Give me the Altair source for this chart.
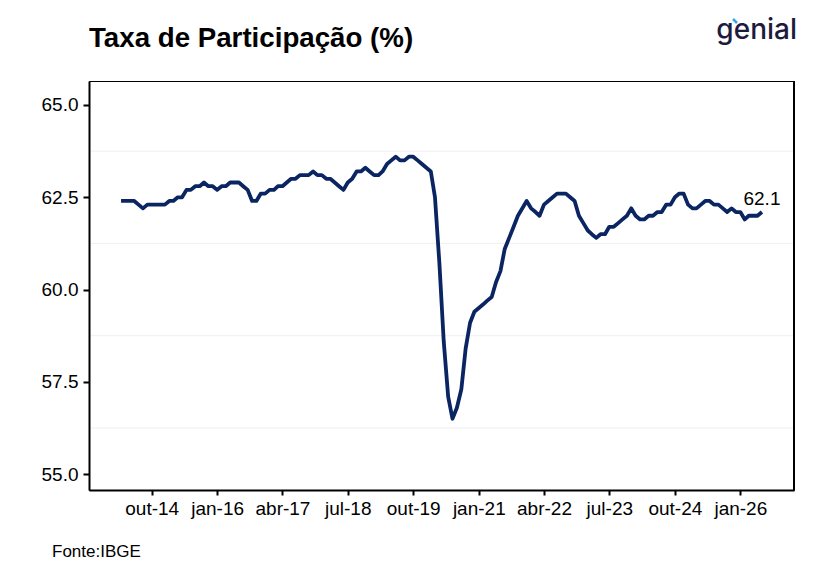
import altair as alt
import pandas as pd
from datetime import datetime, timezone

# ---- data ----
start_year, start_month = 2014, 3
values = [
    62.4, 62.4, 62.4, 62.4, 62.3, 62.2, 62.3, 62.3, 62.3, 62.3,
    62.3, 62.4, 62.4, 62.5, 62.5, 62.7, 62.7, 62.8, 62.8, 62.9,
    62.8, 62.8, 62.7, 62.8, 62.8, 62.9, 62.9, 62.9, 62.8, 62.7,
    62.4, 62.4, 62.6, 62.6, 62.7, 62.7, 62.8, 62.8, 62.9, 63.0,
    63.0, 63.1, 63.1, 63.1, 63.2, 63.1, 63.1, 63.0, 63.0, 62.9,
    62.8, 62.7, 62.9, 63.0, 63.2, 63.2, 63.3, 63.2, 63.1, 63.1,
    63.2, 63.4, 63.5, 63.6, 63.5, 63.5, 63.6, 63.6, 63.5, 63.4,
    63.3, 63.2, 62.5, 60.7, 58.6, 57.1, 56.5, 56.8, 57.3, 58.4,
    59.1, 59.4, 59.5, 59.6, 59.7, 59.8, 60.2, 60.5, 61.1, 61.4,
    61.7, 62.0, 62.2, 62.4, 62.2, 62.1, 62.0, 62.3, 62.4, 62.5,
    62.6, 62.6, 62.6, 62.5, 62.4, 62.0, 61.8, 61.6, 61.5, 61.4,
    61.5, 61.5, 61.7, 61.7, 61.8, 61.9, 62.0, 62.2, 62.0, 61.9,
    61.9, 62.0, 62.0, 62.1, 62.1, 62.3, 62.3, 62.5, 62.6, 62.6,
    62.3, 62.2, 62.2, 62.3, 62.4, 62.4, 62.3, 62.3, 62.2, 62.1,
    62.2, 62.1, 62.1, 61.9, 62.0, 62.0, 62.0, 62.1,
]
month_names = ["jan", "fev", "mar", "abr", "mai", "jun",
               "jul", "ago", "set", "out", "nov", "dez"]
tick_dates = ["2014-10-01", "2016-01-01", "2017-04-01", "2018-07-01", "2019-10-01",
              "2021-01-01", "2022-04-01", "2023-07-01", "2024-10-01", "2026-01-01"]
y_ticks = [55.0, 57.5, 60.0, 62.5, 65.0]
minor_grid = [56.25, 58.75, 61.25, 63.75]

dates = []
for i in range(len(values)):
    mm = start_month - 1 + i
    dates.append(f"{start_year + mm // 12}-{mm % 12 + 1:02d}-01")

df = pd.DataFrame({"data": dates, "valor": values})
last = df.tail(1).assign(rotulo=lambda d: d["valor"].map(lambda v: f"{v:.1f}"))

def ms(s):
    return int(datetime.strptime(s, "%Y-%m-%d").replace(tzinfo=timezone.utc).timestamp() * 1000)

t0, t1 = ms(dates[0]), ms(dates[-1])
pad = 0.05 * (t1 - t0)
x_domain = [t0 - pad, t1 + pad]
tick_ms = [ms(d) for d in tick_dates]

W, H = 705, 409
NAVY = "#0a2562"
FONT = "Liberation Sans"

month_js = "[" + ",".join(f"'{m}'" for m in month_names) + "]"

x_enc = alt.X("data:T", scale=alt.Scale(type="utc", domain=x_domain, nice=False),
              axis=alt.Axis(values=tick_ms, title=None,
                            labelExpr=month_js + "[utcmonth(datum.value)] + '-' + utcFormat(datum.value, '%y')",
                            labelFontSize=19, labelColor="black", labelFont=FONT,
                            tickColor="black", tickWidth=2, tickSize=5,
                            domainColor="black", domainWidth=2, labelPadding=4,
                            grid=False))
y_scale = alt.Scale(domain=[54.57, 65.65], nice=False, zero=False)

grid = alt.Chart(pd.DataFrame({"g": minor_grid})).mark_rule(
    color="#efefef", strokeWidth=1).encode(
    y=alt.Y("g:Q", scale=y_scale), x=alt.value(2), x2=alt.value(W - 1))

line = alt.Chart(df).mark_line(color=NAVY, strokeWidth=3.8, strokeJoin="round").encode(
    x=x_enc,
    y=alt.Y("valor:Q", scale=y_scale,
            axis=alt.Axis(values=y_ticks, format=".1f", title=None,
                          labelFontSize=19, labelColor="black", labelFont=FONT,
                          tickColor="black", tickWidth=2, tickSize=6,
                          domainColor="black", domainWidth=2, labelPadding=5,
                          grid=False)),
)

end_label = alt.Chart(last).mark_text(
    font=FONT, fontSize=19, color="black", align="center", baseline="alphabetic", dy=-7
).encode(x="data:T", y="valor:Q", text="rotulo:N")

one = alt.Data(values=[{}])
right_border = alt.Chart(one).mark_rule(color="black", strokeWidth=2).encode(
    x=alt.value(W), y=alt.value(0), y2=alt.value(H))

title = alt.Chart(one).mark_text(
    text="Taxa de Participação (%)", font=FONT, fontSize=27.7, fontWeight="bold",
    color="black", align="left", baseline="alphabetic").encode(
    x=alt.value(0), y=alt.value(-34))

logo = alt.Chart(one).mark_text(
    text="genial", font="Inter", fontSize=28, fontWeight=500,
    color="#1d1b3d", align="right", baseline="alphabetic").encode(
    x=alt.value(708), y=alt.value(-42))

accent = alt.Chart(one).mark_rule(color="#3aa6e6", strokeWidth=2.5).encode(
    x=alt.value(644), x2=alt.value(648), y=alt.value(-62), y2=alt.value(-58))

source = alt.Chart(one).mark_text(
    text="Fonte:IBGE", font=FONT, fontSize=17, color="black",
    align="left", baseline="alphabetic").encode(
    x=alt.value(-37), y=alt.value(476))

chart = alt.layer(grid, line, end_label, right_border, title, logo, accent, source).properties(
    width=W, height=H,
    autosize=alt.AutoSizeParams(type="none"),
    padding={"left": 81, "top": 73, "right": 19, "bottom": 88},
    background="white",
).configure_view(stroke="black", strokeWidth=1)

chart.save("out.html", embed_options={"renderer": "svg", "actions": False})
